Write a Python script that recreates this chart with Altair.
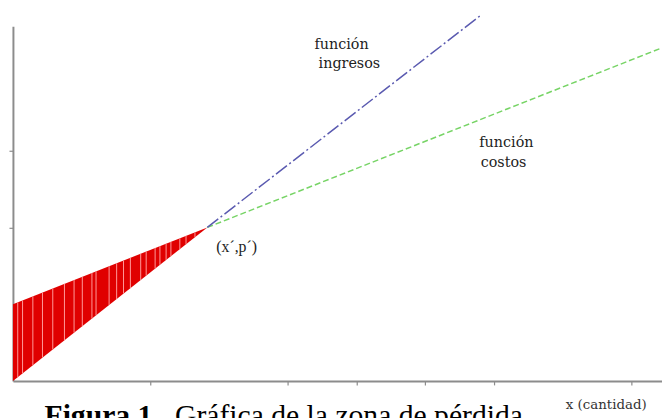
import altair as alt
import pandas as pd

# --- data ---
cost_x = [0.0, 2.83, 9.45]
cost_y = [1.0, 2.0, 4.34]
rev_x = [0.0, 2.83, 6.82]
rev_y = [0.0, 2.0, 4.77]
stripe_x = [0.07, 0.14, 0.29, 0.43, 0.58, 0.75, 0.89, 1.01, 1.15, 1.21, 1.40,
            1.51, 1.61, 1.71, 1.86, 1.94, 2.07, 2.14, 2.23, 2.30, 2.43, 2.52, 2.65]
x_ticks = [2, 4, 5, 6, 7, 9]
y_ticks = [2, 3]

label_text = ["función", "ingresos", "función", "costos"]
label_x = [4.39, 4.45, 6.79, 6.81]
label_y = [4.376, 4.13, 3.10, 2.84]
point_label = "(x´,p´)"
caption_bold = "Figura 1."
caption_rest = "Gráfica de la zona de pérdida"
x_title = "x (cantidad)"

XD = [0, 9.45]
YD = [0, 4.62]

axis_style = dict(labels=False, title=None, grid=False, domainColor="#8c8c8c",
                  domainWidth=2, tickColor="#8c8c8c", tickWidth=1.2, tickSize=4)
X_AXIS = alt.Axis(values=x_ticks, **axis_style)
Y_AXIS = alt.Axis(values=y_ticks, **axis_style)

def X(field="x"):
    return alt.X(f"{field}:Q", scale=alt.Scale(domain=XD, nice=False, zero=False), axis=X_AXIS)

def Y(field="y"):
    return alt.Y(f"{field}:Q", scale=alt.Scale(domain=YD, nice=False, zero=False), axis=Y_AXIS)

cost = pd.DataFrame({"x": cost_x, "y": cost_y})
rev = pd.DataFrame({"x": rev_x, "y": rev_y})
area_df = pd.DataFrame({"x": cost_x[:2], "top": cost_y[:2], "bottom": rev_y[:2]})
stripes = pd.DataFrame({"x": stripe_x})
labels = pd.DataFrame({"t": label_text, "x": label_x, "y": label_y})

area = alt.Chart(area_df).mark_area(color="#e00000", opacity=1).encode(
    x=X(), y=Y("top"), y2="bottom:Q"
)

slope_lo = (rev_y[1] - rev_y[0]) / (rev_x[1] - rev_x[0])
slope_hi = (cost_y[1] - cost_y[0]) / (cost_x[1] - cost_x[0])
stripe = alt.Chart(stripes).transform_calculate(
    lo=f"{rev_y[0]} + datum.x * {slope_lo}",
    hi=f"{cost_y[0]} + datum.x * {slope_hi}",
).mark_rule(color="#ff9a9a", strokeWidth=1).encode(
    x=X(), y=Y("lo"), y2="hi:Q"
)

green = alt.Chart(cost.iloc[1:]).mark_line(
    color="#77d466", strokeWidth=1.5, strokeDash=[6, 3]
).encode(x=X(), y=Y())

blue = alt.Chart(rev.iloc[1:]).mark_line(
    color="#5a5ab0", strokeWidth=1.5, strokeDash=[14, 3, 2, 3]
).encode(x=X(), y=Y())

lab = alt.Chart(labels).mark_text(
    align="left", baseline="middle", font="DejaVu Serif", fontSize=14.5, color="#222222"
).encode(x=X(), y=Y(), text="t:N")

pt = alt.Chart(pd.DataFrame({"t": [point_label], "x": [2.96], "y": [1.75]})).mark_text(
    align="left", baseline="middle", font="Liberation Serif", fontSize=16, color="#222222"
).encode(x=X(), y=Y(), text="t:N")

cap1 = alt.Chart(pd.DataFrame({"t": [caption_bold], "x": [0.46], "y": [-0.58]})).mark_text(
    align="left", baseline="alphabetic", font="Liberation Serif", fontSize=30,
    fontWeight="bold", color="#000000"
).encode(x=X(), y=Y(), text="t:N")

cap2 = alt.Chart(pd.DataFrame({"t": [caption_rest], "x": [2.36], "y": [-0.58]})).mark_text(
    align="left", baseline="alphabetic", font="Liberation Serif", fontSize=30,
    color="#000000"
).encode(x=X(), y=Y(), text="t:N")

xt = alt.Chart(pd.DataFrame({"t": [x_title], "x": [8.05], "y": [-0.32]})).mark_text(
    align="left", baseline="middle", font="DejaVu Serif", fontSize=13.5, color="#333333"
).encode(x=X(), y=Y(), text="t:N")

chart = alt.layer(area, stripe, green, blue, lab, pt, cap1, cap2, xt).properties(
    width=657, height=359,
    autosize=alt.AutoSizeParams(type="none"),
    padding={"left": 5, "top": 16, "right": 0, "bottom": 35},
    background="white",
).configure_view(stroke=None)

chart.save("out.html", embed_options={"renderer": "svg", "actions": False})
